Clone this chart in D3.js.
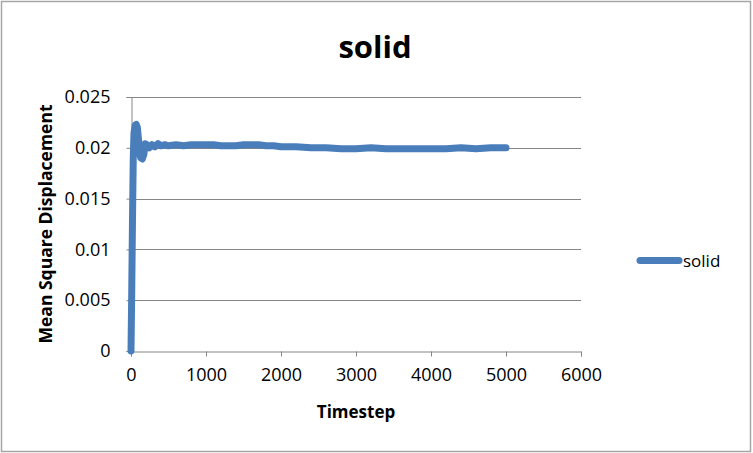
<!DOCTYPE html>
<html>
<head>
<meta charset="utf-8">
<script src="https://cdn.jsdelivr.net/npm/d3@7"></script>
<style>
  body { margin: 0; background: #fff; }
  text { font-family: "Open Sans", sans-serif; fill: #000; }
</style>
</head>
<body>
<div id="chart"></div>
<script>
const width = 753;
const height = 453;
const marginTop = 97;
const marginRight = 172;
const marginBottom = 102;
const marginLeft = 131;
const title = 'solid';
const seriesName = 'solid';

// timestep / mean square displacement
const timestep = [0, 10, 20, 30, 40, 55, 70, 85, 100, 115, 130, 150, 170, 190, 215, 245, 280, 320, 360, 400, 450, 500, 600, 700, 800, 900, 1000, 1100, 1200, 1300, 1400, 1500, 1600, 1700, 1800, 1900, 2000, 2200, 2400, 2600, 2800, 3000, 3200, 3400, 3600, 3800, 4000, 4200, 4400, 4600, 4800, 5000];
const msd = [0, 0.006, 0.013, 0.019, 0.0215, 0.0222, 0.0223, 0.0220, 0.0208, 0.0195, 0.0190, 0.0189, 0.0193, 0.0204, 0.0203, 0.0200, 0.0203, 0.0201, 0.0204, 0.0202, 0.0203, 0.0202, 0.0203, 0.0202, 0.0203, 0.0203, 0.0203, 0.0203, 0.0202, 0.0202, 0.0202, 0.0203, 0.0203, 0.0203, 0.0202, 0.0202, 0.0201, 0.0201, 0.0200, 0.0200, 0.0199, 0.0199, 0.0200, 0.0199, 0.0199, 0.0199, 0.0199, 0.0199, 0.0200, 0.0199, 0.0200, 0.0200];

const xTicks = [0, 1000, 2000, 3000, 4000, 5000, 6000];
const yTicks = [0, 0.005, 0.01, 0.015, 0.02, 0.025];
const yTickLabels = ['0', '0.005', '0.01', '0.015', '0.02', '0.025'];

const data = timestep.map((t, i) => ({t: t, v: msd[i]}));

const svg = d3.select('#chart')
  .append('svg')
  .attr('width', width)
  .attr('height', height);

// outer frame
svg.append('rect')
  .attr('x', 1.5)
  .attr('y', 1.5)
  .attr('width', 749)
  .attr('height', 450)
  .attr('fill', '#fff')
  .attr('stroke', '#a6a6a6')
  .attr('stroke-width', 1.5);

const x = d3.scaleLinear()
  .domain([0, 6000])
  .range([marginLeft, width - marginRight]);

const y = d3.scaleLinear()
  .domain([0, 0.025])
  .range([height - marginBottom, marginTop]);

// gridlines
svg.append('g')
  .selectAll('line')
  .data(yTicks.slice(1))
  .join('line')
  .attr('x1', marginLeft)
  .attr('x2', width - marginRight)
  .attr('y1', d => Math.round(y(d)) + 0.5)
  .attr('y2', d => Math.round(y(d)) + 0.5)
  .style('stroke', '#868686')
  .style('stroke-width', 1);

// axes
const xAxis = svg.append('g')
  .attr('transform', `translate(0,${Math.round(y(0)) + 0.5})`)
  .call(d3.axisBottom(x).tickValues(xTicks).tickSize(5).tickPadding(12).tickFormat(d3.format('d')));

const yAxis = svg.append('g')
  .attr('transform', `translate(${marginLeft + 0.5},0)`)
  .call(d3.axisLeft(y).tickValues(yTicks).tickSize(5).tickPadding(16).tickFormat((d, i) => yTickLabels[i]));

[xAxis, yAxis].forEach(g => {
  g.select('.domain').style('stroke', '#868686');
  g.selectAll('.tick line').style('stroke', '#868686');
  g.selectAll('.tick text')
    .style('font-family', '"Open Sans", sans-serif')
    .style('font-size', '18px')
    .style('fill', '#000');
});

// series
svg.append('path')
  .datum(data)
  .attr('fill', 'none')
  .attr('stroke', '#4a7ebb')
  .attr('stroke-width', 7)
  .attr('stroke-linejoin', 'round')
  .attr('stroke-linecap', 'round')
  .attr('d', d3.line().x(d => x(d.t)).y(d => y(d.v)));

// title
svg.append('text')
  .attr('x', 375)
  .attr('y', 58)
  .attr('text-anchor', 'middle')
  .style('font-size', '31px')
  .style('font-weight', 'bold')
  .text(title);

// axis titles
svg.append('text')
  .attr('x', 356)
  .attr('y', 418)
  .attr('text-anchor', 'middle')
  .style('font-size', '17px')
  .style('font-weight', 'bold')
  .text('Timestep');

svg.append('text')
  .attr('transform', 'translate(52,224) rotate(-90)')
  .attr('text-anchor', 'middle')
  .style('font-size', '17.5px')
  .style('font-weight', 'bold')
  .text('Mean Square Displacement');

// legend
svg.append('line')
  .attr('x1', 640)
  .attr('x2', 679)
  .attr('y1', 260.5)
  .attr('y2', 260.5)
  .attr('stroke', '#4a7ebb')
  .attr('stroke-width', 7)
  .attr('stroke-linecap', 'round');

svg.append('text')
  .attr('x', 683)
  .attr('y', 267)
  .style('font-size', '17px')
  .text(seriesName);
</script>
</body>
</html>
